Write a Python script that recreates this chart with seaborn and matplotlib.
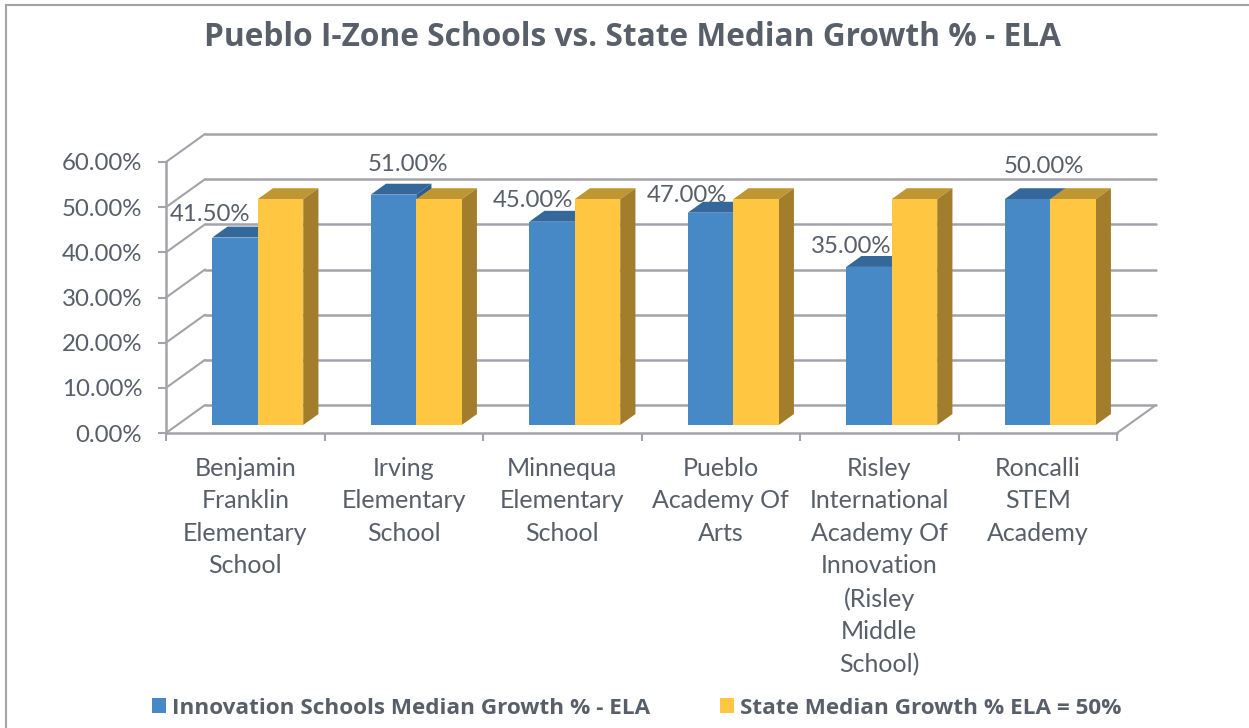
import matplotlib
matplotlib.use("Agg")
import matplotlib.pyplot as plt
import pandas as pd
import seaborn as sns
from matplotlib.patches import Polygon, Rectangle

schools = ["Benjamin\nFranklin\nElementary\nSchool", "Irving\nElementary\nSchool",
           "Minnequa\nElementary\nSchool", "Pueblo\nAcademy Of\nArts",
           "Risley\nInternational\nAcademy Of\nInnovation\n(Risley\nMiddle\nSchool)",
           "Roncalli\nSTEM\nAcademy"]
innovation = [41.5, 51.0, 45.0, 47.0, 35.0, 50.0]
state = [50.0, 50.0, 50.0, 50.0, 50.0, 50.0]
series_names = ["Innovation Schools Median Growth % - ELA", "State Median Growth % ELA = 50%"]
label_offsets = [(-25, 23), (14, 30), (-19, 21), (-24, 17), (-18, 20), (16, 33)]
title = "Pueblo I-Zone Schools vs. State Median Growth % - ELA"

W, H = 1249, 728
TEXT = "#595F69"
GRID = "#A3A4A9"
BLUE, BLUE_TOP, BLUE_SIDE = "#4788C7", "#34689A", "#2E5C8C"
GOLD, GOLD_TOP, GOLD_SIDE = "#FFC642", "#BE9632", "#A27E2C"

sns.set_theme(style="white")
plt.rcParams["font.family"] = ["Lato", "DejaVu Sans"]
fig = plt.figure(figsize=(W / 100, H / 100), dpi=100)
ax = fig.add_axes([166 / W, 1 - 433 / H, 951 / W, 271 / H])

df = pd.DataFrame({
    "school": schools * 2,
    "value": innovation + state,
    "series": [series_names[0]] * 6 + [series_names[1]] * 6,
})
sns.barplot(data=df, x="school", y="value", hue="series", hue_order=series_names,
            palette=[BLUE, GOLD], width=0.574, gap=0, saturation=1, ax=ax, zorder=5,
            linewidth=0, edgecolor="none")
ax.set_xlim(-0.5, 5.5)
ax.set_ylim(0, 60)
ax.set_xlabel("")
ax.set_ylabel("")

# depth of the 3-D box, in data units
DX, DY = 39 / 158.5, 28 / 4.517
FRONT_X, FRONT_Y, DEPTH = 0.32, 0.286, 0.39

# walls
levels = list(range(0, 70, 10))
for lv in levels:
    ax.plot([-0.5, -0.5 + DX], [lv, lv + DY], color=GRID, lw=1.5, clip_on=False, zorder=1)
    ax.plot([-0.5 + DX, 5.5 + DX], [lv + DY, lv + DY], color=GRID, lw=1.8, clip_on=False, zorder=1)
ax.plot([5.5, 5.5 + DX], [0, DY], color=GRID, lw=1.5, clip_on=False, zorder=1)

# bars moved onto their plane and given a top and a side
for cont, top_c, side_c, z in zip(ax.containers, (BLUE_TOP, GOLD_TOP), (BLUE_SIDE, GOLD_SIDE), (2, 3)):
    for p in cont:
        p.set_x(p.get_x() + FRONT_X * DX)
        p.set_y(FRONT_Y * DY)
        p.set_clip_on(False)
        x0, x1 = p.get_x(), p.get_x() + p.get_width()
        y0, y1 = p.get_y(), p.get_y() + p.get_height()
        dx, dy = DEPTH * DX, DEPTH * DY
        ax.add_patch(Polygon([(x0, y1), (x1, y1), (x1 + dx, y1 + dy), (x0 + dx, y1 + dy)],
                             facecolor=top_c, edgecolor="none", clip_on=False, zorder=z))
        ax.add_patch(Polygon([(x1, y0), (x1 + dx, y0 + dy), (x1 + dx, y1 + dy), (x1, y1)],
                             facecolor=side_c, edgecolor="none", clip_on=False, zorder=z))

for p, val, off in zip(ax.containers[0], innovation, label_offsets):
    ax.annotate(f"{val:.2f}%", (p.get_x() + p.get_width() / 2, p.get_y() + p.get_height()),
                xytext=off, textcoords="offset pixels", ha="center", va="center",
                fontsize=17.3, color=TEXT, zorder=10, annotation_clip=False)

# axes
for s in ("top", "right"):
    ax.spines[s].set_visible(False)
for s in ("left", "bottom"):
    ax.spines[s].set_color(GRID)
    ax.spines[s].set_linewidth(1.8)
ax.set_yticks(levels)
ax.set_yticklabels([f"{v:.2f}%" for v in levels], fontsize=17.3, color=TEXT)
ax.tick_params(axis="y", left=True, length=5.8, width=1.5, color=GRID, pad=11.3)
ax.set_xticks(range(6))
ax.set_xticklabels(schools, fontsize=18, color=TEXT, linespacing=1.5)
ax.set_xticks([i - 0.5 for i in range(7)], minor=True)
ax.tick_params(axis="x", which="major", bottom=False, length=0, pad=17)
ax.tick_params(axis="x", which="minor", bottom=True, length=5.8, width=1.5, color=GRID)

# legend
handles, labels = ax.get_legend_handles_labels()
ax.legend(handles, labels, ncol=2, loc="center", frameon=False,
          bbox_to_anchor=(637 / W, 1 - 708 / H), bbox_transform=fig.transFigure,
          prop={"family": "Open Sans", "weight": "bold", "size": 16.2}, labelcolor=TEXT,
          handlelength=0.62, handleheight=0.66, handletextpad=0.27, columnspacing=3.1,
          borderpad=0, borderaxespad=0)

fig.text(633 / W, 1 - 37 / H, title, ha="center", va="center", family="Open Sans",
         fontweight="bold", fontsize=22.8, color=TEXT)

# chart border
fig.add_artist(Rectangle((6 / W, -0.02), 1.2, 1.02 - 5.5 / H, transform=fig.transFigure,
                         facecolor="none", edgecolor=GRID, lw=1.5))
fig.savefig("out.png", dpi=100)
